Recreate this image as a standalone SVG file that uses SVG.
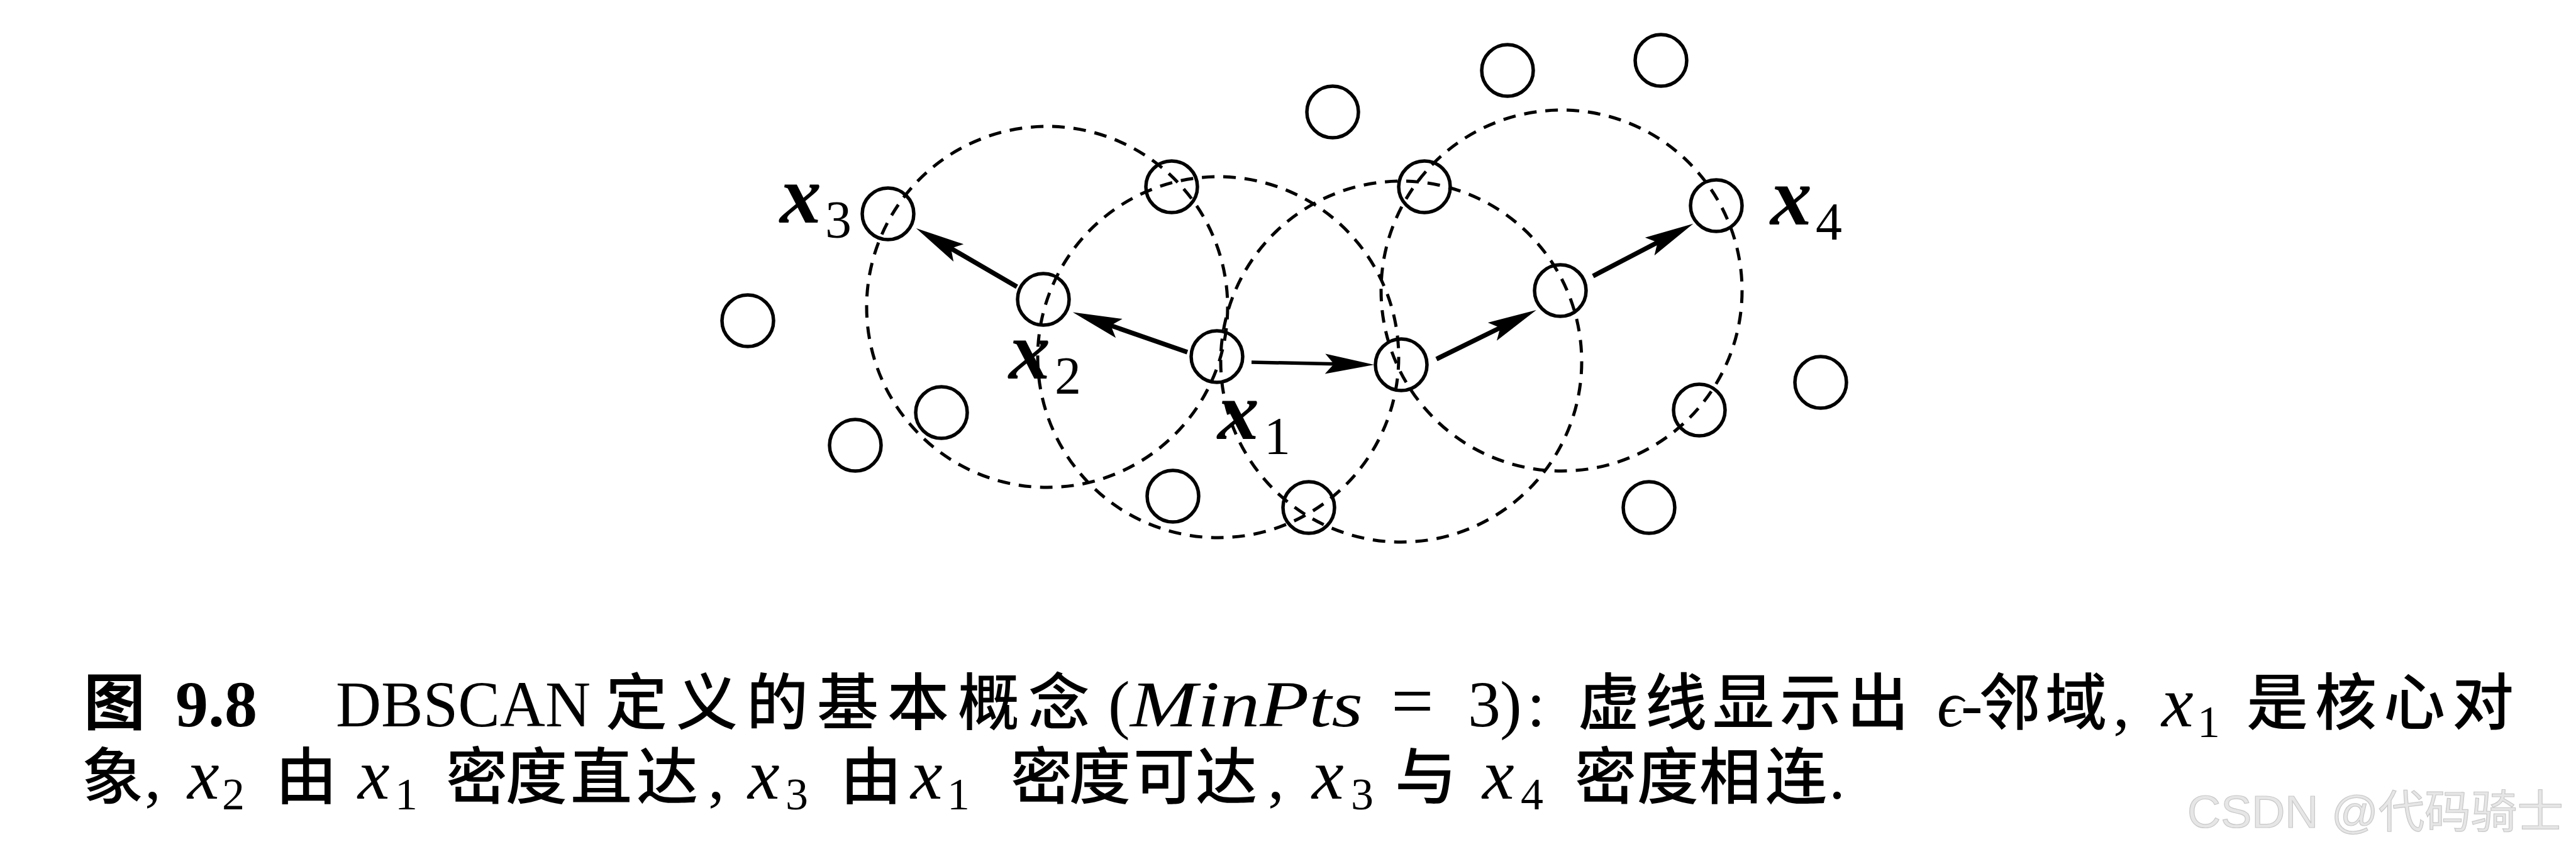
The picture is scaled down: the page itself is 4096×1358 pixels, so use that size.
<svg xmlns="http://www.w3.org/2000/svg" width="4096" height="1358" viewBox="0 0 4096 1358">
<style>
.bg{fill:#fff}
.pt{fill:none;stroke:#000;stroke-width:5.5}
.eps{fill:none;stroke:#000;stroke-width:5;stroke-dasharray:20 14}
.arr{fill:none;stroke:#000;stroke-width:7.5;marker-end:url(#ah)}
.arr.thin{stroke-width:5.5}
.lbl{font-family:"Liberation Serif","DejaVu Serif",serif;font-style:italic;font-weight:bold;font-size:132px;fill:#000}
.sub{font-family:"Liberation Serif","DejaVu Serif",serif;font-size:84px;fill:#000}
.line{font-family:"Liberation Serif","DejaVu Serif",serif;font-size:104px;fill:#000}
.cx{font-style:italic;font-size:114px}
.cj{font-family:"Noto Sans CJK SC",sans-serif;font-size:98px;font-weight:500}
.it{font-style:italic}
.bd{font-weight:bold}
.csub{font-size:72px}
.wm{font-family:"Liberation Sans","Noto Sans CJK SC",sans-serif;font-size:72px;fill:#e6e6e6;stroke:#c9c9c9;stroke-width:1.2}
</style>
<defs>
<marker id="ah" markerUnits="userSpaceOnUse" orient="auto" refX="0" refY="0" markerWidth="90" markerHeight="40" overflow="visible">
<path d="M50,0 L-28,-16 L-14,0 L-28,16 Z" fill="#000"/>
</marker>
</defs>
<rect class="bg" x="0" y="0" width="4096" height="1358"/>

<g id="neighborhoods">
<circle class="eps" cx="1665" cy="488" r="287"/>
<circle class="eps" cx="1937" cy="568" r="287"/>
<circle class="eps" cx="2228" cy="575" r="287"/>
<circle class="eps" cx="2483" cy="462" r="287"/>
</g>

<g id="p-left"><circle class="pt" cx="1189" cy="510" r="41"/></g>
<g id="x3"><circle class="pt" cx="1412" cy="340" r="41"/><text class="lbl" x="1240" y="354">x</text><text class="sub" x="1312" y="378">3</text></g>
<g id="x2"><circle class="pt" cx="1659" cy="476" r="41"/><text class="lbl" x="1604" y="602">x</text><text class="sub" x="1677" y="626">2</text></g>
<g id="p-top1"><circle class="pt" cx="1863" cy="297" r="41"/></g>
<g id="x1"><circle class="pt" cx="1935" cy="567" r="41"/><text class="lbl" x="1936" y="698">x</text><text class="sub" x="2010" y="722">1</text></g>
<g id="p-a"><circle class="pt" cx="1497" cy="656" r="41"/></g>
<g id="p-b"><circle class="pt" cx="1360" cy="708" r="41"/></g>
<g id="p-c"><circle class="pt" cx="1865" cy="789" r="41"/></g>
<g id="p-d"><circle class="pt" cx="2081" cy="807" r="41"/></g>
<g id="p-e"><circle class="pt" cx="2119" cy="178" r="41"/></g>
<g id="p-f"><circle class="pt" cx="2397" cy="112" r="41"/></g>
<g id="p-g"><circle class="pt" cx="2641" cy="96" r="41"/></g>
<g id="p-h"><circle class="pt" cx="2265" cy="297" r="41"/></g>
<g id="x4"><circle class="pt" cx="2729" cy="327" r="41"/><text class="lbl" x="2815" y="357">x</text><text class="sub" x="2887" y="381">4</text></g>
<g id="p-core3"><circle class="pt" cx="2481" cy="462" r="41"/></g>
<g id="p-core2"><circle class="pt" cx="2228" cy="580" r="41"/></g>
<g id="p-i"><circle class="pt" cx="2895" cy="608" r="41"/></g>
<g id="p-j"><circle class="pt" cx="2702" cy="652" r="41"/></g>
<g id="p-k"><circle class="pt" cx="2622" cy="807" r="41"/></g>

<g id="connectors">
<path class="arr" d="M1888,560 L1753,513"/>
<path class="arr" d="M1617,456 L1500,388"/>
<path class="arr thin" d="M1990,576 L2135,579"/>
<path class="arr" d="M2284,571 L2398,515"/>
<path class="arr" d="M2533,439 L2648,379"/>
</g>

<g id="caption">
<text class="line" y="1155"><tspan class="cj bd" x="133" y="1152">图</tspan><tspan class="bd" x="279" y="1155">9.8</tspan><tspan x="534" textLength="405" lengthAdjust="spacingAndGlyphs">DBSCAN</tspan><tspan class="cj" x="963 1075 1187 1299 1411 1523 1635" y="1152">定义的基本概念</tspan><tspan x="1762" y="1155">(</tspan><tspan class="it" x="1797" textLength="370" lengthAdjust="spacingAndGlyphs">MinPts</tspan><tspan x="2212" font-size="120">=</tspan><tspan x="2334">3</tspan><tspan x="2385">)</tspan><tspan x="2428">:</tspan><tspan class="cj" x="2509 2616 2723 2830 2937" y="1152">虚线显示出</tspan><tspan class="it" x="3080" y="1155">ϵ</tspan><tspan x="3118">-</tspan><tspan class="cj" x="3147 3252" y="1152">邻域</tspan><tspan x="3360" y="1155">,</tspan><tspan class="cx" x="3437">x</tspan><tspan class="csub" x="3494" y="1172">1</tspan><tspan class="cj" x="3572 3681 3790 3899" y="1152">是核心对</tspan></text>
<text class="line" y="1270"><tspan class="cj" x="130">象</tspan><tspan x="230">,</tspan><tspan class="cx" x="298">x</tspan><tspan class="csub" x="353" y="1287">2</tspan><tspan class="cj" x="438" y="1270">由</tspan><tspan class="cx" x="569">x</tspan><tspan class="csub" x="628" y="1287">1</tspan><tspan class="cj" x="709 804 907 1012" y="1270">密度直达</tspan><tspan x="1126">,</tspan><tspan class="cx" x="1189">x</tspan><tspan class="csub" x="1249" y="1287">3</tspan><tspan class="cj" x="1336" y="1270">由</tspan><tspan class="cx" x="1448">x</tspan><tspan class="csub" x="1506" y="1287">1</tspan><tspan class="cj" x="1607 1700 1802 1901" y="1270">密度可达</tspan><tspan x="2016">,</tspan><tspan class="cx" x="2086">x</tspan><tspan class="csub" x="2148" y="1287">3</tspan><tspan class="cj" x="2218" y="1270">与</tspan><tspan class="cx" x="2357">x</tspan><tspan class="csub" x="2418" y="1287">4</tspan><tspan class="cj" x="2504 2603 2702 2807" y="1270">密度相连</tspan><tspan x="2908">.</tspan></text>
</g>

<text class="wm" x="3478" y="1316" textLength="598" lengthAdjust="spacingAndGlyphs">CSDN @代码骑士</text>
</svg>
